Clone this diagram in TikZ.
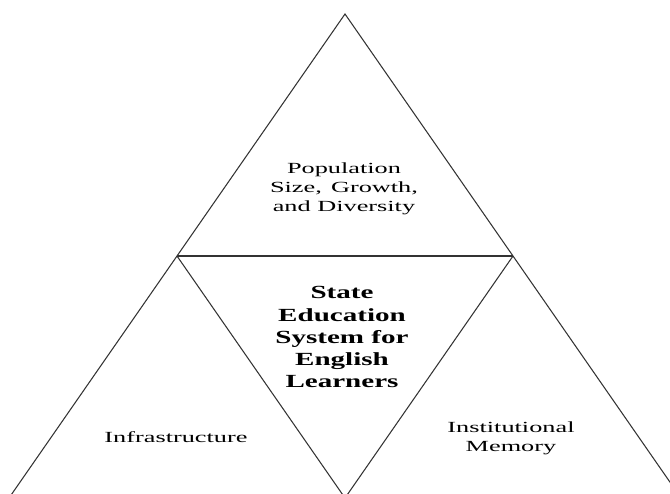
\documentclass[tikz,border=0pt]{standalone}
\usepackage{fontspec}
\setmainfont{Liberation Serif}
\newfontfamily\widefont[FakeStretch=1.7]{Liberation Serif}
\newfontfamily\wideboldfont[FakeStretch=1.57]{Liberation Serif}

\begin{document}
\begin{tikzpicture}[x=0.03cm,y=-0.03cm]
            \tikzstyle{edge}=[draw=black!80, line width=0.9pt]
            \tikzstyle{areatext}=[align=center, inner sep=0pt, font=\widefont\fontsize{13.2}{16.2}\selectfont]
            \tikzstyle{centertext}=[align=center, inner sep=0pt, font=\wideboldfont\bfseries\fontsize{15.8}{18.8}\selectfont]
            \useasboundingbox (0,0) rectangle (670,493);
            \clip (0,0) rectangle (670,493);
            \coordinate (apex) at (345,14);
            \coordinate (midleft) at (177,256);
            \coordinate (midright) at (513,256);
            \coordinate (inner bottom) at (345,498);
            \coordinate (outer left) at (9,498);
            \coordinate (outer right) at (681,498);
            \draw[edge] (outer left) -- (apex) -- (outer right);
            \draw[edge] (midleft) -- (midright);
            \draw[edge] (midleft) -- (inner bottom) -- (midright);
            \node[areatext] (population) at (344,189) {Population\\Size,\, Growth,\\and Diversity};
            \node[centertext] (system) at (342,337) {State\\Education\\System for\\English\\Learners};
            \node[areatext] (infrastructure) at (176,437) {Infrastructure};
            \node[areatext] (memory) at (511,438) {Institutional\\Memory};
\end{tikzpicture}
\end{document}
